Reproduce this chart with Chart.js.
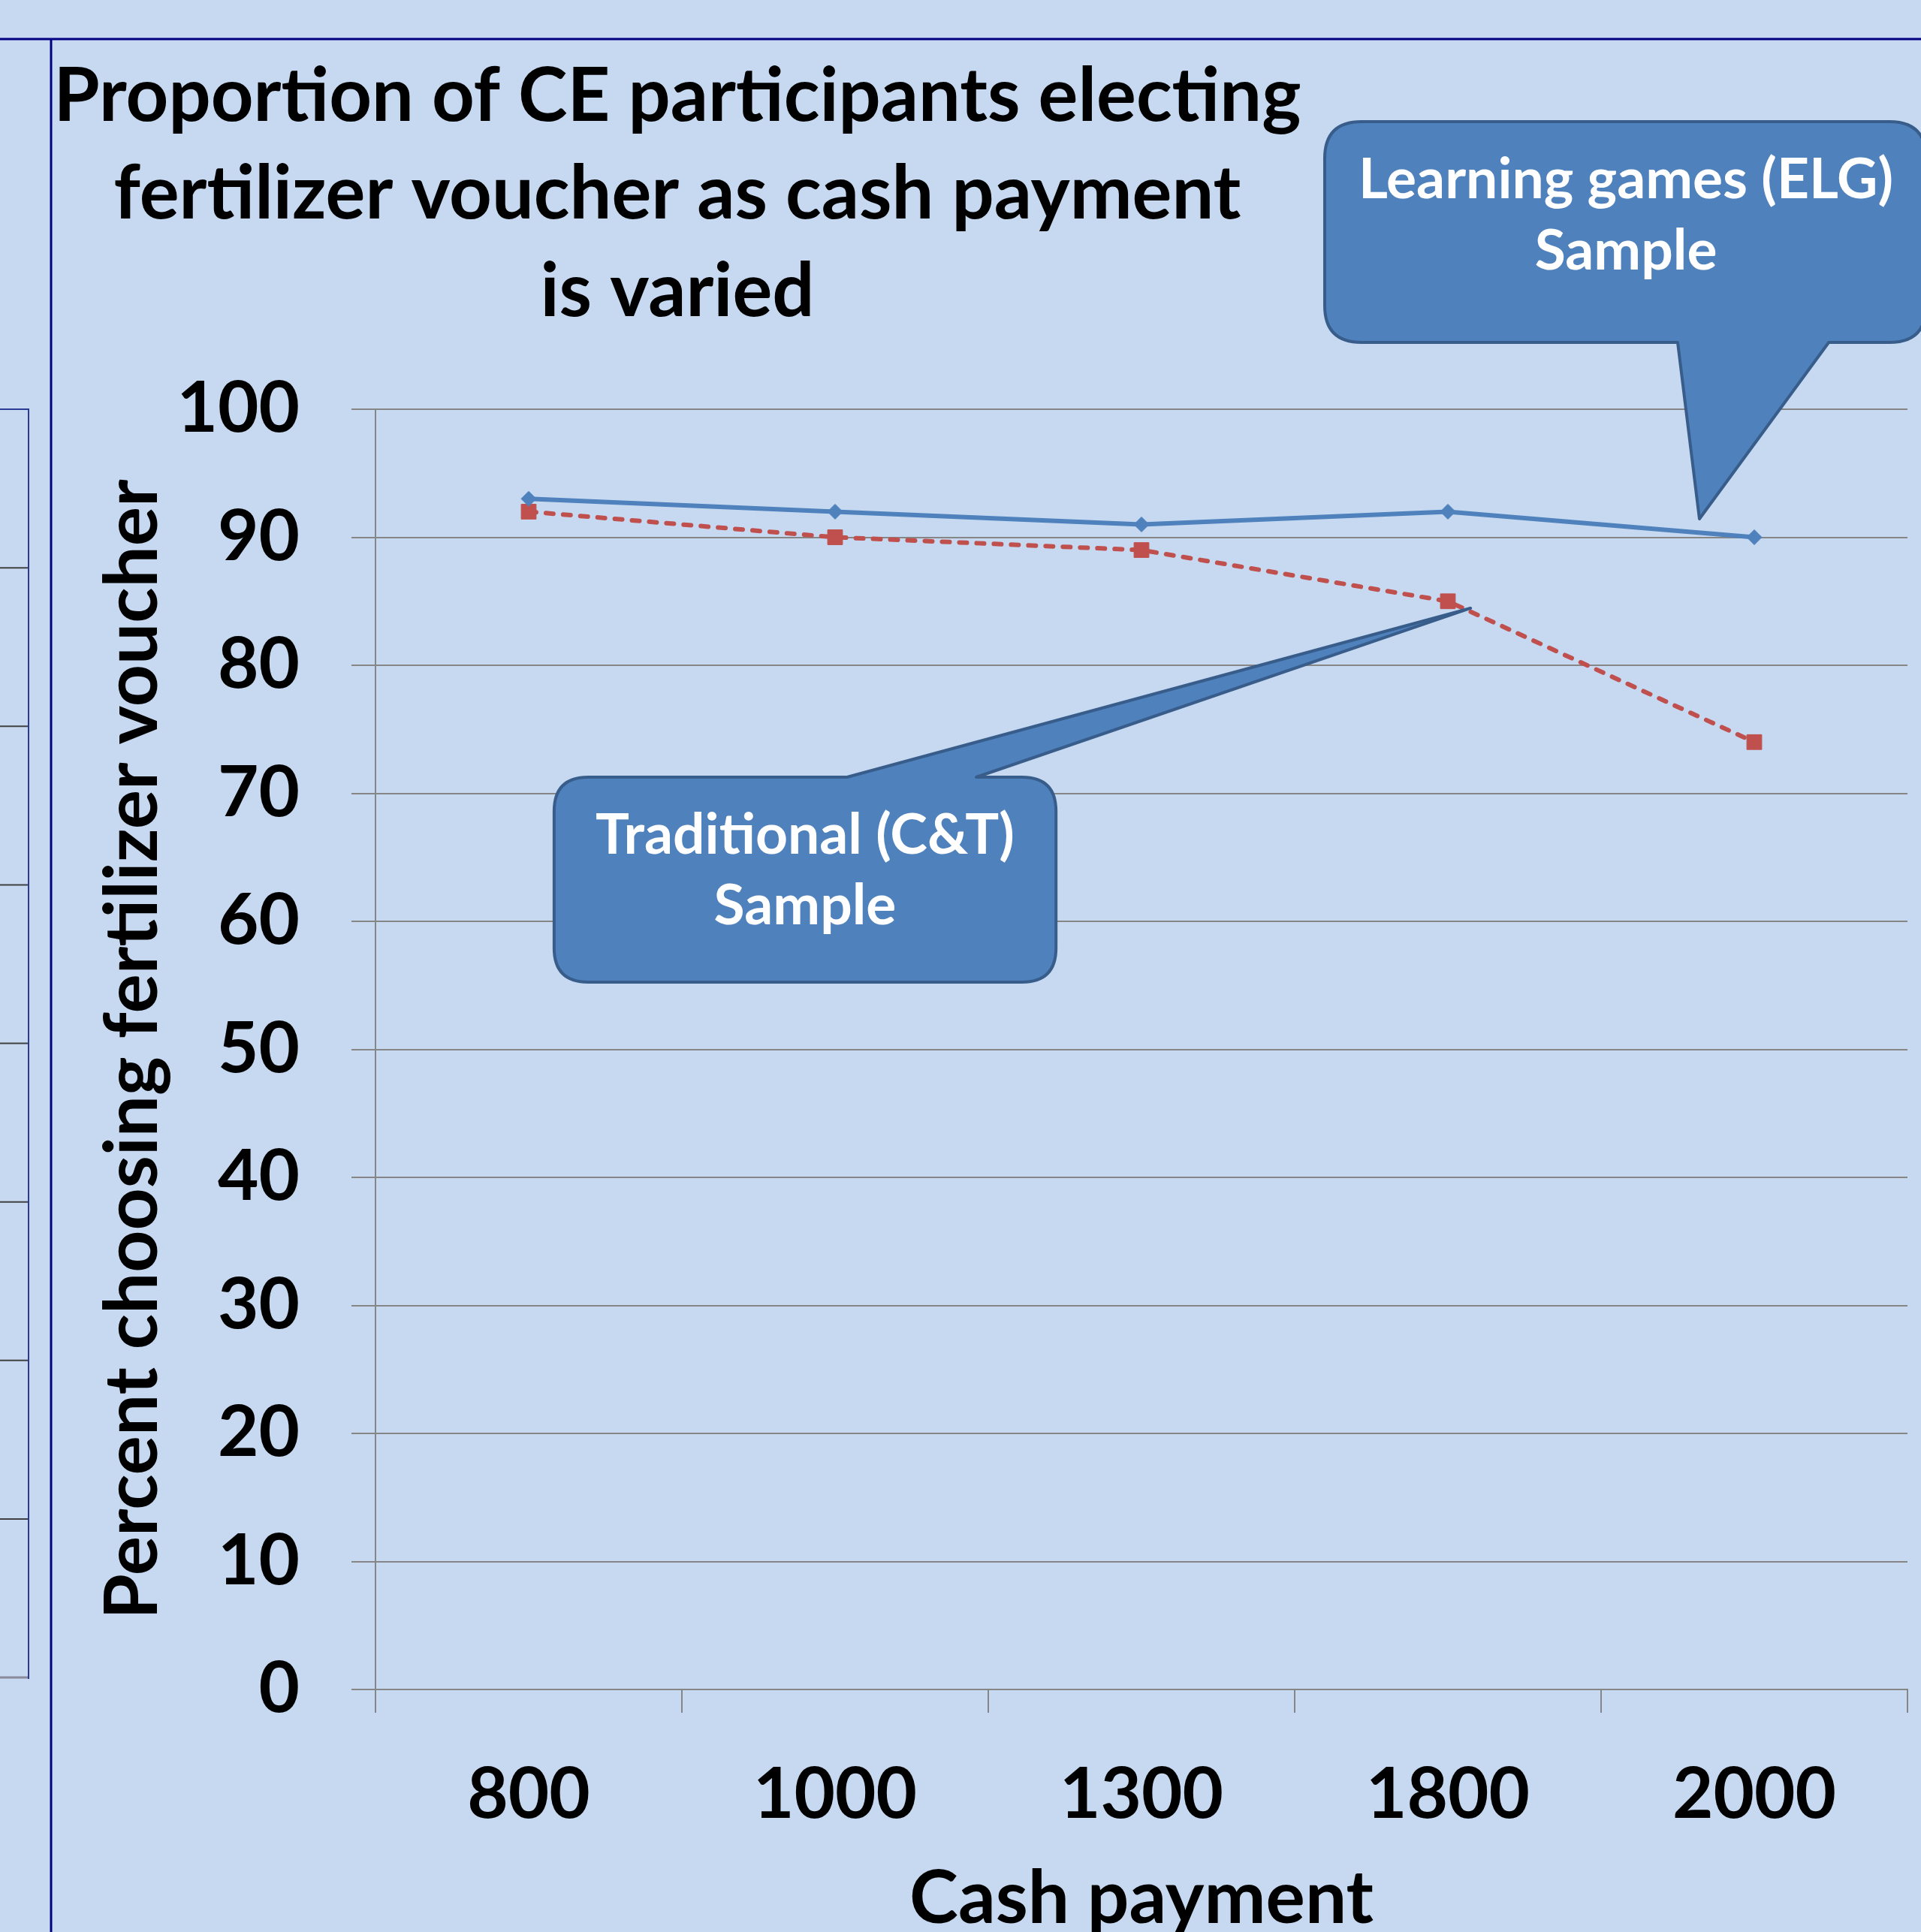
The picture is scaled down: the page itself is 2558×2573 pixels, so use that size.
<!DOCTYPE html>
<html>
<head>
<meta charset="utf-8">
<title>Proportion of CE participants electing fertilizer voucher</title>
<script src="https://cdn.jsdelivr.net/npm/chart.js@4.4.1/dist/chart.umd.min.js"></script>
<style>
  html, body { margin: 0; padding: 0; background: #c6d9f1; overflow: hidden; }
  canvas { display: block; }
</style>
</head>
<body>
<canvas id="chart" width="2558" height="2573"></canvas>
<script>
// data
const payments = ["800", "1000", "1300", "1800", "2000"];
const elgSample = [93, 92, 91, 92, 90];
const ctSample = [92, 90, 89, 85, 74];

const titleLines = ["Proportion of CE participants electing", "fertilizer voucher as cash payment", "is varied"];
const yTitle = "Percent choosing fertilizer voucher";
const xTitle = "Cash payment";
const elgNote = ["Learning games (ELG)", "Sample"];
const ctNote = ["Traditional (C&T)", "Sample"];

const FONT = "Lato";
const blue = "#4f81bd";
const red = "#c0504d";
const navy = "#000080";
const gridGray = "#868686";

Chart.defaults.font.family = FONT;

// speech bubbles, placed in axis units (category index, percent)
const callouts = [
  { lines: elgNote, box: [2.598, 4.561, 122.46, 105.22], edge: "bottom", base: [3.750, 4.243], tip: [3.821, 91.44], text: [3.581, 116.48, 110.91] },
  { lines: ctNote, box: [0.083, 1.721, 71.26, 55.25], edge: "top", base: [1.039, 1.461], tip: [3.074, 84.46], text: [0.902, 65.28, 59.77] }
];

// slide frame and the clipped neighbouring panel on the left
const framePlugin = {
  id: "frame",
  beforeDraw(chart) {
    const ctx = chart.ctx;
    ctx.save();
    ctx.lineWidth = 2;
    ctx.strokeStyle = "#404040";
    for (let k = 1; k < 8; k++) {
      const y = 545 + k * (2234 - 545) / 8;
      ctx.beginPath(); ctx.moveTo(0, y); ctx.lineTo(38, y); ctx.stroke();
    }
    ctx.strokeStyle = "#8a8a9a";
    ctx.lineWidth = 3;
    ctx.beginPath(); ctx.moveTo(0, 2234); ctx.lineTo(38, 2234); ctx.stroke();
    ctx.strokeStyle = "#2b3a92";
    ctx.lineWidth = 2;
    ctx.beginPath(); ctx.moveTo(0, 545); ctx.lineTo(38, 545); ctx.lineTo(38, 2236); ctx.stroke();
    // navy frame
    ctx.strokeStyle = navy;
    ctx.lineWidth = 3;
    ctx.beginPath(); ctx.moveTo(0, 52); ctx.lineTo(chart.width, 52); ctx.stroke();
    ctx.beginPath(); ctx.moveTo(68, 52); ctx.lineTo(68, chart.height); ctx.stroke();
    ctx.restore();
  }
};

const titlePlugin = {
  id: "slideTitle",
  afterDraw(chart) {
    const ctx = chart.ctx;
    ctx.save();
    ctx.fillStyle = "#000";
    ctx.font = "bold 99px " + FONT;
    ctx.textAlign = "center";
    ctx.textBaseline = "alphabetic";
    titleLines.forEach((t, i) => ctx.fillText(t, 902, 161 + i * 130));
    ctx.restore();
  }
};

const calloutPlugin = {
  id: "callouts",
  afterDatasetsDraw(chart) {
    const ctx = chart.ctx;
    const xs = chart.scales.x, ys = chart.scales.y;
    const px = v => xs.getPixelForValue(v);
    const py = v => ys.getPixelForValue(v);
    ctx.save();
    callouts.forEach(c => {
      const x0 = px(c.box[0]), x1 = px(c.box[1]);
      const y0 = py(c.box[2]), y1 = py(c.box[3]);
      const r = Math.min(x1 - x0, y1 - y0) / 6;
      const bl = px(Math.min(...c.base)), br = px(Math.max(...c.base));
      const tx = px(c.tip[0]), ty = py(c.tip[1]);
      ctx.beginPath();
      ctx.moveTo(x0 + r, y0);
      if (c.edge === "top") { ctx.lineTo(bl, y0); ctx.lineTo(tx, ty); ctx.lineTo(br, y0); }
      ctx.lineTo(x1 - r, y0);
      ctx.quadraticCurveTo(x1, y0, x1, y0 + r);
      ctx.lineTo(x1, y1 - r);
      ctx.quadraticCurveTo(x1, y1, x1 - r, y1);
      if (c.edge === "bottom") { ctx.lineTo(br, y1); ctx.lineTo(tx, ty); ctx.lineTo(bl, y1); }
      ctx.lineTo(x0 + r, y1);
      ctx.quadraticCurveTo(x0, y1, x0, y1 - r);
      ctx.lineTo(x0, y0 + r);
      ctx.quadraticCurveTo(x0, y0, x0 + r, y0);
      ctx.closePath();
      ctx.fillStyle = blue;
      ctx.fill();
      ctx.lineWidth = 4;
      ctx.lineJoin = "round";
      ctx.strokeStyle = "#385d8a";
      ctx.stroke();

      ctx.fillStyle = "#fff";
      ctx.font = "bold 75px " + FONT;
      ctx.textAlign = "center";
      ctx.textBaseline = "alphabetic";
      c.lines.forEach((t, i) => ctx.fillText(t, px(c.text[0]), py(c.text[1 + i])));
    });
    ctx.restore();
  }
};

const tickFont = { family: FONT, size: 94, weight: "bold" };
const titleFont = { family: FONT, size: 98, weight: "bold" };

new Chart(document.getElementById("chart"), {
  type: "line",
  data: {
    labels: payments,
    datasets: [
      {
        label: "Learning games (ELG) Sample",
        data: elgSample,
        borderColor: blue,
        backgroundColor: blue,
        borderWidth: 6,
        pointStyle: "rectRot",
        pointRadius: 10,
        pointBorderWidth: 1,
        tension: 0
      },
      {
        label: "Traditional (C&T) Sample",
        data: ctSample,
        borderColor: red,
        backgroundColor: red,
        borderWidth: 6,
        borderDash: [10, 13],
        borderCapStyle: "round",
        pointStyle: "rect",
        pointRadius: 14,
        pointBorderWidth: 1,
        tension: 0
      }
    ]
  },
  options: {
    responsive: false,
    animation: false,
    layout: { padding: { top: 545, right: 18, left: 0, bottom: 0 } },
    plugins: {
      legend: { display: false },
      title: { display: false },
      tooltip: { enabled: false }
    },
    scales: {
      x: {
        offset: true,
        grid: { offset: true, drawOnChartArea: false, tickLength: 31, color: gridGray, lineWidth: 2 },
        border: { color: gridGray, width: 2 },
        ticks: { color: "#000", padding: 53, maxRotation: 0, font: tickFont },
        title: { display: true, text: xTitle, color: "#000", font: { ...titleFont, lineHeight: 0.9 }, padding: 0 },
        afterFit: s => { s.height = 323; }
      },
      y: {
        min: 0,
        max: 100,
        ticks: { stepSize: 10, color: "#000", padding: 69, font: tickFont },
        grid: { color: gridGray, lineWidth: 2, tickLength: 32 },
        border: { color: gridGray, width: 2 },
        title: { display: true, text: yTitle, color: "#000", font: { ...titleFont, lineHeight: 1.2 }, padding: { top: 119, bottom: 0 } },
        afterFit: s => { s.width = 500; }
      }
    }
  },
  plugins: [framePlugin, titlePlugin, calloutPlugin]
});
</script>
</body>
</html>
